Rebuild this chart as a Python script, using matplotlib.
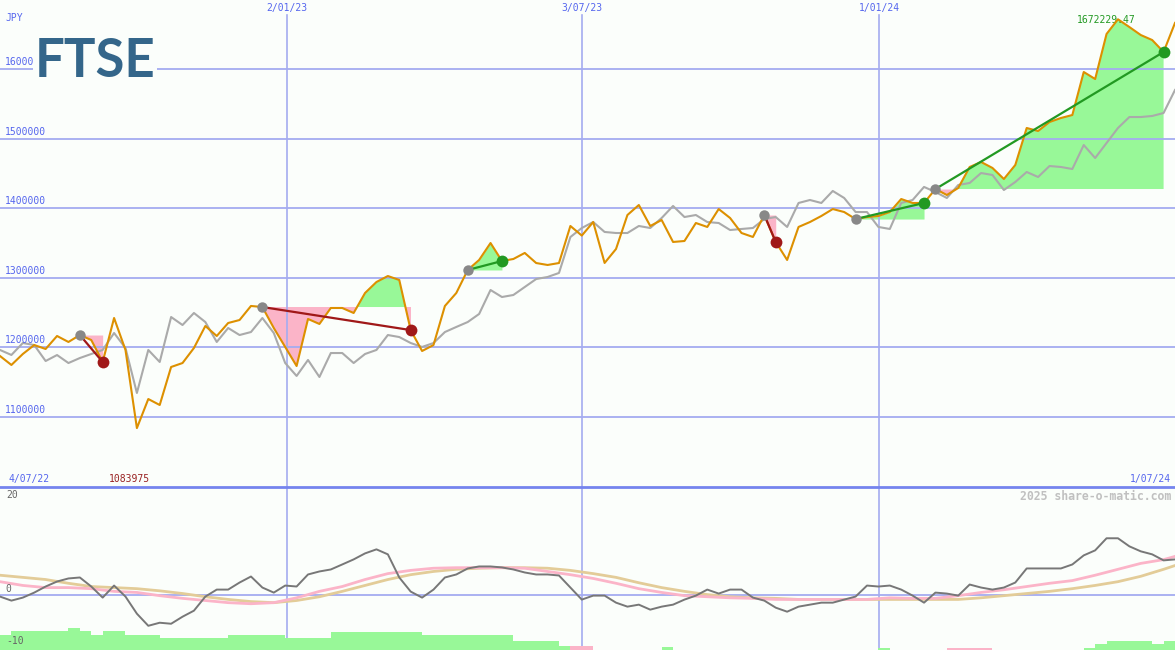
import numpy as np
import matplotlib
matplotlib.use('Agg')
import matplotlib.pyplot as plt

# weekly closes, FTSE in JPY (orange) and benchmark (gray)
price = [1187700, 1174800, 1190600, 1203500, 1197800, 1216500, 1207900, 1217900, 1210700, 1179100,
         1242400, 1196400, 1083975, 1125800, 1117200, 1171900, 1177600, 1199200, 1230900, 1216500,
         1235200, 1239500, 1259700, 1258200, 1228000, 1200700, 1173300, 1241000, 1233800, 1256800,
         1256800, 1249600, 1278400, 1294200, 1302800, 1297100, 1225000, 1194900, 1203500, 1259700,
         1278400, 1311500, 1325900, 1350300, 1324400, 1327300, 1336000, 1321500, 1318700, 1321500,
         1374800, 1361000, 1380500, 1321600, 1341700, 1390600, 1405000, 1374800, 1383400, 1351800,
         1353200, 1379100, 1373400, 1399200, 1386300, 1364700, 1359000, 1390600, 1351800, 1325900,
         1373400, 1380500, 1389200, 1399200, 1394900, 1384800, 1387700, 1389200, 1394900, 1413600,
         1407900, 1407900, 1428000, 1419400, 1429500, 1459700, 1466900, 1458300, 1442400, 1462600,
         1515800, 1511500, 1524400, 1530200, 1534500, 1596400, 1586300, 1651100, 1672229.47, 1661100,
         1649600, 1642400, 1625200, 1667000]

bench = [1196400, 1189200, 1206400, 1203500, 1180500, 1189100, 1177600, 1184800, 1190600, 1196400,
         1220800, 1199200, 1134500, 1196400, 1179100, 1243800, 1232300, 1249600, 1236600, 1207900,
         1228000, 1217900, 1222200, 1242400, 1220800, 1177600, 1159000, 1182000, 1157500, 1192000,
         1192000, 1177600, 1190600, 1196400, 1217900, 1215000, 1206400, 1200700, 1206400, 1222200,
         1229500, 1236600, 1248200, 1282700, 1272600, 1275500, 1287000, 1298500, 1301400, 1307200,
         1358900, 1371900, 1380500, 1366200, 1364700, 1364700, 1374800, 1371900, 1386300, 1403600,
         1387700, 1390600, 1380500, 1379100, 1369000, 1370500, 1371900, 1384800, 1387700, 1373400,
         1407900, 1412200, 1407900, 1425200, 1415100, 1394900, 1394900, 1373400, 1370500, 1407900,
         1412200, 1431000, 1423700, 1415100, 1433800, 1436700, 1451000, 1448200, 1426600, 1438100,
         1452500, 1445300, 1461100, 1459700, 1456800, 1491300, 1472600, 1494200, 1515800, 1531600,
         1531600, 1533100, 1537400, 1570500]

# buy / sell signals (week numbers)
buy_wk = [7, 23, 41, 67, 75, 82]
sell_wk = [9, 36, 44, 68, 81, 102]

# lower panel: momentum oscillator and its two averages
mom = [-0.37, -1.12, -0.56, 0.37, 1.5, 2.43, 3.0, 3.18, 1.5, -0.56,
       1.68, -0.37, -3.55, -5.8, -5.23, -5.42, -4.11, -2.99, -0.37, 0.93,
       0.93, 2.24, 3.36, 1.31, 0.37, 1.68, 1.5, 3.74, 4.3, 4.67,
       5.6, 6.54, 7.66, 8.41, 7.48, 3.18, 0.56, -0.56, 0.93, 3.18,
       3.74, 4.86, 5.23, 5.23, 5.05, 4.67, 4.11, 3.74, 3.74, 3.55,
       1.31, -0.93, -0.19, -0.19, -1.5, -2.24, -1.87, -2.8, -2.24, -1.87,
       -0.93, -0.19, 0.93, 0.19, 0.93, 0.93, -0.56, -1.12, -2.43, -3.18,
       -2.24, -1.87, -1.5, -1.5, -0.93, -0.37, 1.68, 1.5, 1.68, 0.93,
       -0.19, -1.5, 0.37, 0.19, -0.19, 1.87, 1.31, 0.93, 1.31, 2.24,
       4.86, 4.86, 4.86, 4.86, 5.6, 7.29, 8.22, 10.47, 10.47, 8.97,
       8.04, 7.48, 6.36, 6.54]

ma_wk = [0, 2, 4, 6, 8, 10, 12, 14, 16, 18, 20, 22, 24, 26, 28, 30, 32, 34, 36, 38,
         40, 42, 44, 46, 48, 50, 52, 54, 56, 58, 60, 62, 64, 66, 68, 70, 72, 74, 76, 78,
         80, 82, 84, 86, 88, 90, 92, 94, 96, 98, 100, 102, 103]
ma_fast = [2.4, 1.7, 1.3, 1.3, 1.1, 0.6, 0.4, -0.2, -0.7, -1.1, -1.5, -1.7, -1.5, -0.6, 0.6, 1.5,
           2.8, 3.9, 4.5, 4.9, 5.0, 5.0, 5.0, 4.9, 4.3, 3.7, 3.0, 2.1, 1.1, 0.4, -0.2, -0.4,
           -0.6, -0.7, -0.9, -0.9, -0.9, -0.9, -0.9, -0.6, -0.7, -0.7, -0.2, 0.4, 0.9, 1.5,
           2.1, 2.6, 3.6, 4.7, 5.8, 6.5, 7.1]
ma_slow = [3.6, 3.2, 2.8, 2.1, 1.5, 1.3, 1.1, 0.7, 0.2, -0.4, -0.9, -1.3, -1.5, -1.1, -0.4, 0.6,
           1.7, 2.8, 3.7, 4.3, 4.7, 4.9, 5.0, 5.0, 4.9, 4.5, 3.9, 3.2, 2.2, 1.3, 0.6, 0.0,
           -0.4, -0.6, -0.7, -0.9, -0.9, -0.9, -0.9, -0.9, -0.9, -0.9, -0.9, -0.6, -0.2, 0.2,
           0.6, 1.1, 1.7, 2.4, 3.4, 4.7, 5.4]

# weekly histogram at the foot of the lower panel (nan = nothing drawn)
na = np.nan
bar_top = ([-7.5] + [-6.7] * 5 + [-6.2, -6.7, -7.5, -6.7, -6.7] + [-7.5] * 3 + [-8.0] * 6
           + [-7.5] * 5 + [-8.0] * 4 + [-7.0] * 8 + [-7.6] * 8 + [-8.6] * 4 + [-9.5]
           + [-9.6] * 2 + [na] * 6 + [-9.8] + [na] * 18 + [-9.9] + [na] * 5 + [-9.9] * 4
           + [na] * 8 + [-9.9, -9.2, -8.6, -8.6, -8.6, -8.6, -9.2, -8.6, -8.6])
bar_sign = (['g'] * 50 + ['p'] * 2 + ['g'] * 31 + ['p'] * 4 + ['g'] * 17)

date_pos = [25.15, 51.0, 77.05]
date_lab = ['2/01/23', '3/07/23', '1/01/24']
y_ticks = [1100000, 1200000, 1300000, 1400000, 1500000, 1600000]

BG = '#fbfefb'
GRID = '#a4acf0'
LAB = '#5566ee'
GREEN = '#98f898'
PINK = '#fbb4c8'
MONO = 'DejaVu Sans Mono'

wk = np.arange(len(price))
price = np.array(price)
bench = np.array(bench)

fig = plt.figure(figsize=(11.75, 6.5), dpi=100, facecolor=BG)
ax = fig.add_axes([0, 163 / 650, 1, 487 / 650], facecolor=BG)
ax2 = fig.add_axes([0, 0, 1, 163 / 650], facecolor=BG)
for a in (ax, ax2):
    a.set_xlim(0, 103)
    a.axis('off')
ax.set_ylim(999200, 1700000)
ax2.set_ylim(-10.3, 20)

# grid
for v in y_ticks:
    ax.axhline(v, color=GRID, lw=1.3, zorder=2)
    ax.text(0.004, v + 3000, str(v), transform=ax.get_yaxis_transform(), ha='left', va='bottom',
            fontsize=7, family=MONO, color=LAB, zorder=6)
for p, lab in zip(date_pos, date_lab):
    ax.axvline(p, ymax=1 - 15 / 487, color=GRID, lw=1.2, zorder=2)
    ax2.axvline(p, color=GRID, lw=1.2, zorder=1)
    ax.text(p, 1 - 8 / 487, lab, transform=ax.get_xaxis_transform(), ha='center', va='center',
            fontsize=7, family=MONO, color=LAB)

# trade shading and signal lines
for s, e in zip(buy_wk, sell_wk):
    xs = wk[s:e + 1]
    ys = price[s:e + 1]
    lvl = price[s]
    ax.fill_between(xs, lvl, ys, where=ys >= lvl, interpolate=True, color=GREEN, lw=0, zorder=1)
    ax.fill_between(xs, lvl, ys, where=ys <= lvl, interpolate=True, color=PINK, lw=0, zorder=1)

ax.plot(wk, bench, color='#aaaaaa', lw=1.5, zorder=3)
ax.plot(wk, price, color='#dd9000', lw=1.5, zorder=4)

for s, e in zip(buy_wk, sell_wk):
    win = price[e] > price[s]
    c = '#229922' if win else '#a01818'
    ax.plot([s, e], [price[s], price[e]], color=c, lw=1.6, zorder=5)
    ax.plot(s, price[s], 'o', ms=7.5, color='#888888', mec='none', zorder=6)
    ax.plot(e, price[e], 'o', ms=8.5, color=c, mec='none', zorder=6)

# labels
ax.text(0.005, 1 - 18 / 487, 'JPY', transform=ax.transAxes, fontsize=7, family=MONO,
        color=LAB, va='center')
ax.text(35 / 1175, 1 - 77 / 487, 'FTSE', transform=ax.transAxes, fontsize=38, weight='bold',
        family=['Lato', 'DejaVu Sans'], color='#34668a', va='baseline', ha='left', zorder=7,
        bbox=dict(facecolor=BG, edgecolor='none', pad=1))
imax = int(np.argmax(price))
imin = int(np.argmin(price))
ax.text(imax - 1.0, 1 - 20 / 487, f'{price[imax]:.2f}', transform=ax.get_xaxis_transform(),
        ha='center', va='center', fontsize=7, family=MONO, color='#229922')
ax.text(imin - 2.5, 8 / 487, f'{price[imin]:.0f}', transform=ax.get_xaxis_transform(),
        ha='left', va='center', fontsize=7, family=MONO, color='#992222')
ax.text(0.007, 8 / 487, '4/07/22', transform=ax.transAxes, ha='left', va='center',
        fontsize=7, family=MONO, color=LAB)
ax.text(0.997, 8 / 487, '1/07/24', transform=ax.transAxes, ha='right', va='center',
        fontsize=7, family=MONO, color=LAB)
fig.add_artist(plt.Line2D([0, 1], [163 / 650, 163 / 650], color='#7584ee', lw=2))

# lower panel
ax2.axhline(0, color=GRID, lw=1.3, zorder=1)
top = np.array(bar_top)
cols = [GREEN if c == 'g' else PINK for c in bar_sign]
ax2.bar(wk, top + 10.3, bottom=-10.3, width=1, align='edge', color=cols, lw=0, zorder=2)
ax2.plot(ma_wk, ma_slow, color='#e3cc98', lw=2, zorder=3)
ax2.plot(ma_wk, ma_fast, color='#fbb4c8', lw=2, zorder=3)
ax2.plot(wk, mom, color='#777777', lw=1.4, zorder=4)
for v, lab in [(18.5, '20'), (1.1, '0'), (-8.6, '-10')]:
    ax2.text(0.005, v, lab, transform=ax2.get_yaxis_transform(), ha='left', va='center',
             fontsize=7, family=MONO, color='#666666')
ax2.text(0.997, 1 - 9 / 163, '2025 share-o-matic.com', transform=ax2.transAxes, ha='right',
         va='center', fontsize=8.3, family=MONO, weight='bold', color='#c0c0c0')

fig.savefig('out.png', dpi=100, facecolor=BG)
